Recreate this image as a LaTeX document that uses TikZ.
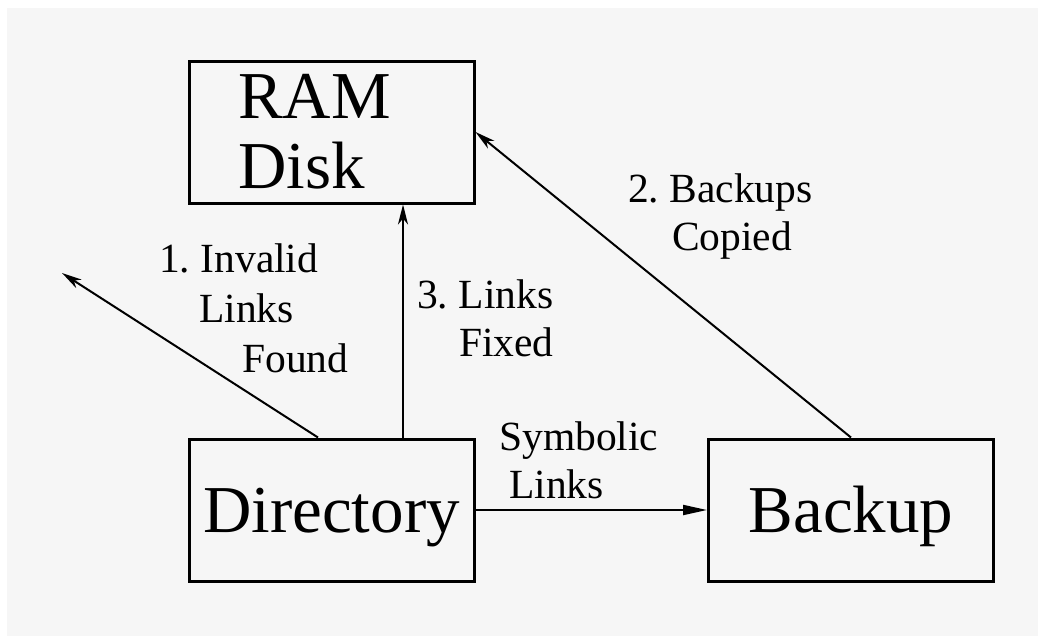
\documentclass[tikz,border=0pt]{standalone}
\usepackage{fontspec}
\setmainfont{Liberation Serif}
\usetikzlibrary{arrows.meta}
\definecolor{bg}{RGB}{246,246,246}
\frenchspacing
\begin{document}
\begin{tikzpicture}[x=1pt,y=-1pt,
  box/.style={draw, line width=3pt, inner sep=0pt, minimum width=285pt, minimum height=142pt},
  big/.style={font=\fontsize{67}{70}\selectfont},
  lbl/.style={font=\fontsize{41.5}{49}\selectfont, anchor=base west, inner sep=0pt},
  conn/.style={line width=2pt},
  headA/.style={-{Stealth[length=20pt,width=10pt,inset=6pt]}},
  headB/.style={-{Triangle[length=24pt,width=10pt]}}]
\useasboundingbox (0,0) rectangle (1038,635);
\fill[white] (-5,-5) rectangle (1045,645);
\fill[bg] (7,8) rectangle (1045,645);

\node[box, big, align=left, text width=187pt, inner xsep=49pt] (ram) at (331.5,132) {RAM\\Disk};
\node[box, big, text depth=0pt, text height=45pt] (dir) at (331.5,510) {Directory};
\node[box, big, text depth=0pt, text height=45pt] (bak) at (851,510) {Backup};
\coordinate (inv) at (62,273);

\draw[conn, headA] ([xshift=-13.5pt]dir.north) -- (inv);
\draw[conn, headA] (bak.north) -- (ram.east);
\draw[conn, headA] ([xshift=71.5pt]dir.north) -- ([xshift=71.5pt]ram.south);
\draw[conn, headB] (dir.east) -- (bak.west);

\node[lbl] (l1a) at (159,272) {1. Invalid};
\node[lbl] (l1b) at (199,322) {Links};
\node[lbl] (l1c) at (242,372) {Found};
\node[lbl] (l2a) at (628,202) {2. Backups};
\node[lbl] (l2b) at (672,250) {Copied};
\node[lbl] (l3a) at (417,308) {3. Links};
\node[lbl] (l3b) at (459,356) {Fixed};
\node[lbl] (l4a) at (499,450) {Symbolic};
\node[lbl] (l4b) at (509,498) {Links};
\end{tikzpicture}
\end{document}
